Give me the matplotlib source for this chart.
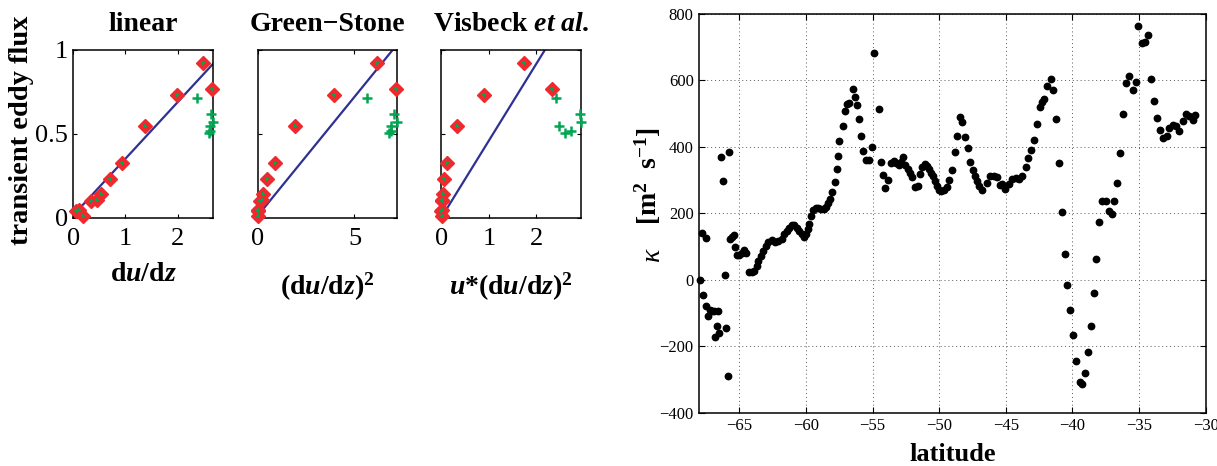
import numpy as np
import matplotlib
matplotlib.use("Agg")
import matplotlib.pyplot as plt

plt.rcParams['font.family'] = ['Liberation Serif', 'DejaVu Serif']
plt.rcParams['mathtext.fontset'] = 'custom'
plt.rcParams['mathtext.rm'] = 'Liberation Serif'
plt.rcParams['mathtext.it'] = 'Liberation Serif:italic'
plt.rcParams['mathtext.bf'] = 'Liberation Serif:bold'
plt.rcParams['mathtext.bfit'] = 'Liberation Serif:bold:italic'

# --- left panels: points used for the fit (red diamonds) ---
dudz_fit = [0.06, 0.115, 0.18, 0.33, 0.46, 0.54, 0.70, 0.94, 1.38, 1.98, 2.48, 2.67]
flux_fit = [0.04, 0.05, 0.01, 0.10, 0.11, 0.14, 0.23, 0.33, 0.55, 0.73, 0.92, 0.77]
visb_fit = [0.004, 0.007, 0.01, 0.015, 0.02, 0.03, 0.05, 0.13, 0.34, 0.90, 1.73, 2.32]

# other points (green crosses only)
dudz_oth = [2.38, 2.65, 2.68, 2.62, 2.62, 2.60]
flux_oth = [0.715, 0.62, 0.57, 0.545, 0.515, 0.505]
visb_oth = [2.41, 2.92, 2.94, 2.47, 2.74, 2.60]

# fitted lines: (intercept, slope)
fit_linear = (0.017, 0.336)
fit_green = (0.013, 0.1416)
fit_visb = (0.002, 0.458)

# --- right panel: kappa vs latitude ---
lat = [-67.95, -67.83, -67.53, -67.7, -67.46, -67.33, -67.2, -67.08, -66.9, -66.6,
       -66.8, -66.55, -66.65, -66.38, -66.23, -65.78, -66.1, -66.0, -65.88, -65.7,
       -65.55, -65.43, -65.33, -65.2, -65.0, -64.82, -64.65, -64.5,
       -64.25, -64.07, -63.9, -63.7, -63.57, -63.4, -63.2, -63.0, -62.82, -62.57,
       -62.32, -62.07, -61.82, -61.64, -61.44, -61.27, -61.07, -60.86, -60.69, -60.49,
       -60.29, -60.14, -60.01, -59.86, -59.74, -59.61, -59.44, -59.26, -59.06, -58.86,
       -58.68, -58.48, -58.36, -58.18, -58.01, -57.81, -57.68, -57.56, -57.48,
       -57.23, -57.06, -56.93, -56.73, -56.5, -56.3, -56.18, -56.0, -55.83, -55.68,
       -55.5, -55.25, -55.05, -54.87, -54.52, -54.37, -54.22, -54.05, -53.87,
       -53.6, -53.42, -53.22, -53.05, -52.87, -52.72, -52.54, -52.37, -52.22, -52.02,
       -51.79, -51.62, -51.47, -51.29, -51.09, -50.91, -50.76, -50.61, -50.46, -50.29,
       -50.16, -49.99, -49.84, -49.61, -49.41, -49.24, -49.04, -48.83, -48.66, -48.46,
       -48.28, -48.03, -47.83, -47.66, -47.48, -47.33, -47.16, -47.0, -46.75, -46.4,
       -46.15, -45.9, -45.65, -45.4,
       -45.28, -45.03, -44.77, -44.52, -44.27, -44.02, -43.77, -43.52, -43.32, -43.1,
       -42.89, -42.69, -42.47, -42.32, -42.14, -41.89, -41.64, -41.44, -41.22, -41.01,
       -40.81, -40.59, -40.39, -40.19, -39.96, -39.71, -39.46, -39.31, -39.06, -38.83,
       -38.63, -38.41, -38.21, -37.98, -37.76, -37.51, -37.26, -37.06, -36.88, -36.63,
       -36.43, -36.18, -35.95, -35.73, -35.48, -35.25, -35.05, -34.8, -34.57, -34.35,
       -34.1, -33.87, -33.65, -33.4, -33.17, -32.94, -32.74, -32.49, -32.24, -31.99,
       -31.74, -31.49, -31.24, -30.99, -30.79]
kappa = [0, 140, 125, -45, -78, -110, -90, -95, -95, -95,
         -171, -161, -140, 371, 296, 385, 15, -146, -290, 122,
         128, 135, 100, 75, 75, 80, 90, 82,
         22, 24, 27, 42, 57, 72, 87, 102, 114, 120,
         114, 117, 124, 137, 147, 157, 164, 164, 157, 147,
         137, 130, 137, 152, 167, 192, 209, 217, 217, 214,
         212, 220, 230, 242, 264, 294, 332, 372, 417,
         463, 508, 529, 531, 573, 551, 525, 484, 433, 388,
         361, 361, 401, 684, 513, 356, 316, 276, 301,
         353, 358, 351, 346, 356, 369, 346, 333, 321, 308,
         279, 281, 318, 341, 349, 344, 333, 321, 311, 296,
         283, 271, 266, 269, 278, 299, 329, 386, 433, 491,
         476, 431, 396, 356, 331, 311, 296, 281, 271, 291,
         311, 313, 309, 286,
         287, 272, 287, 302, 305, 302, 312, 339, 367, 392,
         422, 469, 519, 534, 544, 584, 605, 570, 484, 352,
         204, 77, -15, -90, -165, -245, -308, -315, -281, -216,
         -138, -41, 63, 175, 236, 236, 207, 199, 236, 292,
         382, 499, 592, 613, 572, 596, 763, 713, 716, 738,
         605, 537, 487, 452, 427, 432, 457, 465, 462, 449,
         477, 499, 492, 482, 497]

red = '#ee2a2e'
green = '#00a651'
blue = '#2e3192'

W, H = 1217, 466
fig = plt.figure(figsize=(W / 100, H / 100), dpi=100)

def box(x0, x1, y0, y1):
    return [x0 / W, 1 - y1 / H, (x1 - x0) / W, (y1 - y0) / H]

panels = [
    (box(73.3, 213, 50, 218), np.array(dudz_fit), np.array(dudz_oth), fit_linear,
     'linear', r'$\mathbf{d}\mathbfit{u}\mathbf{/d}\mathbfit{z}$', [0, 1, 2], ['0', '1', '2'], 8.5),
    (box(257.7, 396.7, 50, 218), np.array(dudz_fit) ** 2, np.array(dudz_oth) ** 2, fit_green,
     'Green\u2212Stone', r'$\mathbf{(d}\mathbfit{u}\mathbf{/d}\mathbfit{z}\mathbf{)}^{\mathbf{2}}$',
     [0, 5], ['0', '5'], 15),
    (box(441.3, 581, 50, 218), np.array(visb_fit), np.array(visb_oth), fit_visb,
     r'$\mathbf{Visbeck}\ \mathbfit{et\ al.}$',
     r'$\mathbfit{u}\mathbf{{*}(d}\mathbfit{u}\mathbf{/d}\mathbfit{z}\mathbf{)}^{\mathbf{2}}$',
     [0, 1, 2], ['0', '1', '2'], 15),
]

for i, (pos, xf, xo, fit, title, xlabel, xt, xtl, lpad) in enumerate(panels):
    ax = fig.add_axes(pos)
    xmax = max(xf.max(), xo.max())
    xx = np.linspace(xf.min(), xmax, 50)
    ax.plot(xx, fit[0] + fit[1] * xx, color=blue, lw=1.6, zorder=2)
    ax.plot(xo, flux_oth, '+', color=green, ms=6.5, mew=1.8, clip_on=False, zorder=3)
    ax.plot(xf, flux_fit, 'D', color=red, ms=7, mec=red, clip_on=False, zorder=4)
    ax.plot(xf, flux_fit, '+', color=green, ms=3, mew=1.2, clip_on=False, zorder=5)
    ax.set_xlim(0, xmax)
    ax.set_ylim(0, 1)
    ax.set_xticks(xt)
    ax.set_xticklabels(xtl)
    ax.set_yticks([0, 0.5, 1])
    if i == 0:
        ax.set_yticklabels(['0', '0.5', '1'])
    else:
        ax.set_yticklabels([])
    ax.tick_params(direction='in', top=True, right=True, length=3, width=0.8,
                   labelsize=19, pad=4)
    ax.tick_params(axis='x', pad=7)
    for s in ax.spines.values():
        s.set_linewidth(1.1)
    ax.set_title(title, fontsize=20, fontweight='bold', pad=14)
    ax.set_xlabel(xlabel, fontsize=20, labelpad=lpad)

fig.text(22 / W, 1 - 130 / H, 'transient eddy flux', rotation=90, ha='center', va='center',
         fontsize=20.5, fontweight='bold')

# right panel
ax = fig.add_axes(box(699.3, 1205.7, 14, 412.7))
ax.plot(lat, kappa, 'o', color='k', ms=4.6, mec='k', clip_on=False, zorder=3)
ax.set_xlim(-68, -30)
ax.set_ylim(-400, 800)
ax.set_xticks(np.arange(-65, -29, 5))
ax.set_yticks(np.arange(-400, 801, 200))
ax.grid(True, color='0.35', linestyle=(0, (1, 3)), linewidth=0.7)
ax.tick_params(direction='in', top=True, right=True, length=4, width=0.8,
               labelsize=12, pad=4)
for s in ax.spines.values():
    s.set_linewidth(1.1)
ax.set_xlabel('latitude', fontsize=19, fontweight='bold', labelpad=6)
fig.text(648 / W, 1 - 176 / H, r'$\mathbf{[m^{2}\ \ s^{-1}]}$', rotation=90,
         ha='center', va='center', fontsize=20)
fig.text(654 / W, 1 - 255 / H, r'$\mathit{κ}$', rotation=90,
         ha='center', va='center', fontsize=20)

fig.savefig('out.png', dpi=100)
